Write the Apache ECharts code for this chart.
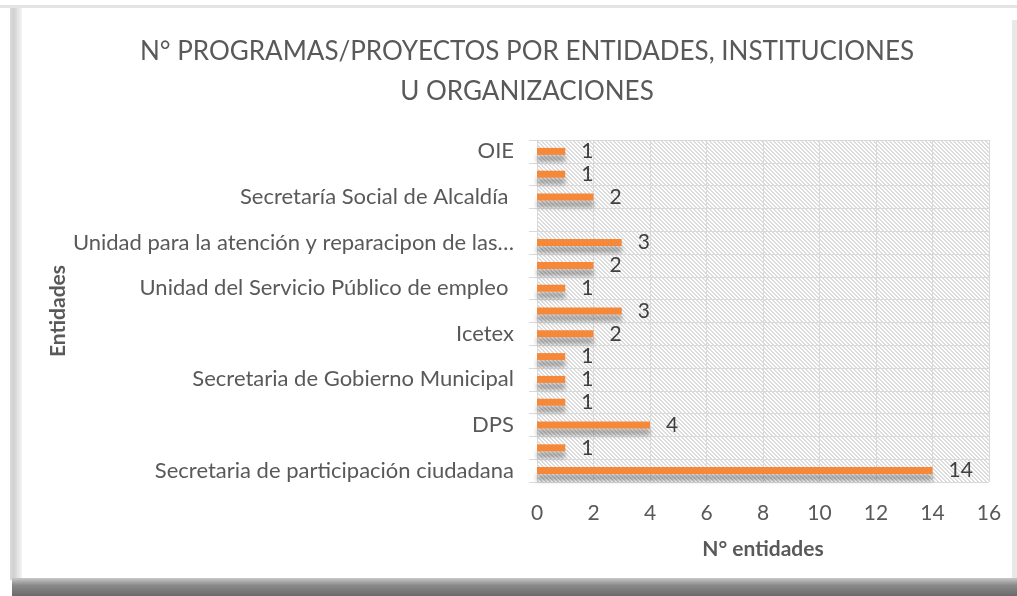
<!DOCTYPE html>
<html>
<head>
<meta charset="utf-8">
<script src="https://cdn.jsdelivr.net/npm/echarts@6/dist/echarts.min.js"></script>
<style>
  html, body { margin: 0; padding: 0; background: #ffffff; }
  #chart { width: 1017px; height: 596px; }
</style>
</head>
<body>
<div id="chart"></div>
<script>
// Categories from bottom to top (only every other label is shown in the original)
const categories = [
  'Secretaria de participación ciudadana',
  'Entidad 2',
  'DPS',
  'Entidad 4',
  'Secretaria de Gobierno Municipal',
  'Entidad 6',
  'Icetex',
  'Entidad 8',
  'Unidad del Servicio Público de empleo ',
  'Entidad 10',
  'Unidad para la atención y reparacipon de las víctimas',
  'Entidad 12',
  'Secretaría Social de Alcaldía ',
  'Entidad 14',
  'OIE'
];
const values = [14, 1, 4, 1, 1, 1, 2, 3, 1, 2, 3, null, 2, 1, 1];
const xTicks = { min: 0, max: 16, interval: 2 };
const titleText = 'N° PROGRAMAS/PROYECTOS POR ENTIDADES, INSTITUCIONES\nU ORGANIZACIONES';
const xName = 'N° entidades';
const yName = 'Entidades';

const FONT = 'Lato';

// hatch pattern for the plot background
const pc = document.createElement('canvas');
pc.width = 8; pc.height = 8;
const g = pc.getContext('2d');
g.fillStyle = '#ffffff';
g.fillRect(0, 0, 8, 8);
g.fillStyle = '#dcdcdc';
for (let i = 0; i < 8; i++) {
  [0, 1, 4, 5].forEach(k => g.fillRect((i + k) % 8, i, 1, 1));
}

const chart = echarts.init(document.getElementById('chart'), null, { renderer: 'canvas' });

chart.setOption({
  backgroundColor: '#ffffff',
  animation: false,
  textStyle: { fontFamily: FONT },
  graphic: [
    { type: 'rect', silent: true, z: -10, shape: { x: 0, y: 5, width: 1017, height: 3 }, style: { fill: '#e4e4e4' } },
    { type: 'rect', silent: true, z: -10, shape: { x: 10, y: 8, width: 12, height: 572 },
      style: { fill: new echarts.graphic.LinearGradient(0, 0, 1, 0, [
        { offset: 0, color: '#dcdcdc' }, { offset: 0.3, color: '#d0d0d0' }, { offset: 1, color: '#f4f4f4' }]) } },
    { type: 'rect', silent: true, z: -10, shape: { x: 1012, y: 20, width: 5, height: 560 }, style: { fill: '#e8e8e8' } },
    { type: 'rect', silent: true, z: -10, shape: { x: 12, y: 578, width: 1005, height: 18 },
      style: { fill: new echarts.graphic.LinearGradient(0, 0, 0, 1, [
        { offset: 0, color: '#c8c8c8' }, { offset: 0.4, color: '#8a8a8a' }, { offset: 1, color: '#6a6a6a' }]) } }
  ],
  title: {
    text: titleText,
    left: 522,
    top: 27,
    textAlign: 'center',
    textStyle: { fontFamily: FONT, fontSize: 26, fontWeight: 'normal', color: '#595959', lineHeight: 40 }
  },
  grid: {
    left: 537, right: 28, top: 140, bottom: 114,
    show: true, borderWidth: 0,
    backgroundColor: { image: pc, repeat: 'repeat' }
  },
  xAxis: {
    type: 'value',
    min: xTicks.min, max: xTicks.max, interval: xTicks.interval,
    name: xName, nameLocation: 'middle', nameGap: 57,
    nameTextStyle: { fontFamily: FONT, fontSize: 21, fontWeight: 'bold', color: '#595959' },
    axisLine: { show: false },
    axisTick: { show: false },
    axisLabel: { fontFamily: FONT, fontSize: 21, color: '#595959', margin: 21 },
    splitLine: { show: true, lineStyle: { color: '#d9d9d9', width: 1 } }
  },
  yAxis: {
    type: 'category',
    data: categories,
    name: yName, nameLocation: 'middle', nameGap: 464, nameRotate: 90,
    nameTextStyle: { fontFamily: FONT, fontSize: 21, fontWeight: 'bold', color: '#595959' },
    axisLine: { show: true, lineStyle: { color: '#d9d9d9' } },
    axisTick: { show: true, interval: 0, length: 8, lineStyle: { color: '#d9d9d9' } },
    axisLabel: { interval: 1, fontFamily: FONT, fontSize: 22, color: '#595959', margin: 23,
      width: 452, overflow: 'truncate', ellipsis: '…' },
    splitLine: { show: true, interval: 0, lineStyle: { color: '#d9d9d9', width: 1 } }
  },
  series: [{
    type: 'bar',
    data: values,
    barWidth: 7,
    itemStyle: {
      color: '#F6883A',
      shadowColor: 'rgba(0,0,0,0.3)',
      shadowBlur: 4,
      shadowOffsetY: 7
    },
    label: {
      show: true, position: 'right', distance: 16,
      fontFamily: FONT, fontSize: 21, color: '#404040'
    }
  }]
});
</script>
</body>
</html>
